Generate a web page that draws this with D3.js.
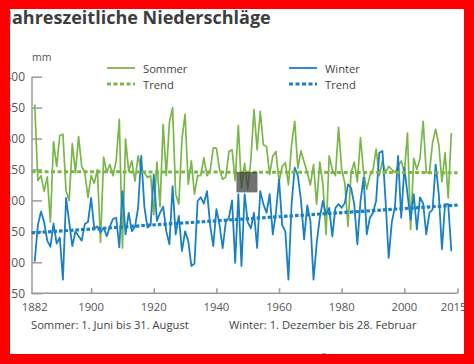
<!DOCTYPE html>
<html><head><meta charset="utf-8">
<script src="https://cdn.jsdelivr.net/npm/d3@7"></script>
<style>html,body{margin:0;padding:0;background:#fff;}svg{display:block;}</style>
</head><body>
<svg id="chart" width="474" height="364"></svg>
<script>
const firstYear = 1882;
const sommer = [355,232,240,215,238,165,295,255,305,307,215,200,292,245,303,255,245,205,240,228,250,132,270,245,258,240,264,331,123,299,247,264,231,272,250,245,237,240,177,262,190,323,240,326,350,210,194,300,339,226,264,210,240,240,269,240,248,285,284,250,234,238,279,282,232,321,220,260,218,265,347,282,344,290,287,242,272,279,230,255,261,225,290,328,252,280,262,245,225,258,194,262,226,145,272,250,240,318,250,228,158,245,262,230,301,245,218,240,250,283,240,264,245,255,250,245,255,264,245,309,153,268,250,268,328,245,245,293,315,290,230,277,204,309];
const winter = [101,160,182,165,135,125,163,130,140,72,204,165,126,150,142,135,162,165,204,155,158,148,156,142,158,170,172,124,215,145,180,150,157,188,272,190,156,160,242,167,180,190,150,129,223,145,175,118,150,135,94,98,199,205,195,215,160,126,186,160,123,165,172,200,99,210,94,210,165,155,180,123,215,194,180,210,145,180,234,160,150,72,194,253,240,200,137,192,167,72,130,172,199,177,188,142,188,194,188,196,226,220,194,129,199,237,145,172,180,200,277,280,200,107,165,190,272,172,253,210,169,210,153,205,195,145,180,185,258,210,121,194,194,118];
const trendYears = [1881, 2017];
const sommerTrend = [246.5, 244.8];
const winterTrend = [147.5, 192.5];
const yTicks = [50,100,150,200,250,300,350,400];
const xTicks = [1900,1920,1940,1960,1980,2000];
const xLabels = ["1882","1900","1920","1940","1960","1980","2000","2015"];
const xLabelYears = [1882,1900,1920,1940,1960,1980,2000,2017];
const title = "Jahreszeitliche Niederschläge";
const unit = "mm";
const legendItems = [["Sommer","Trend"],["Winter","Trend"]];
const notes = ["Sommer: 1. Juni bis 31. August","Winter: 1. Dezember bis 28. Februar"];
const sources = ["Quelle: Deutscher Wetterdienst","©Deutscher Bauernverband"];

const green = "#7ab648", blue = "#1a80c4", axisCol = "#9a9a9a", textCol = "#555";
const FONT = "'Open Sans', sans-serif";
const TFONT = "'Open Sans', 'Noto Sans', sans-serif";
const svg = d3.select("#chart");
svg.append("rect").attr("width",474).attr("height",364).attr("fill","#fff");

const x = d3.scaleLinear().domain([1881, 2017]).range([31.6, 457.6]);
const y = d3.scaleLinear().domain([50, 400]).range([293.2, 76.7]);

// title
svg.append("text").attr("x",6).attr("y",24).attr("font-family",TFONT).attr("font-weight","bold")
  .attr("font-size",18).attr("fill","#3d3d3d").text(title);
svg.append("text").attr("x",32).attr("y",61).attr("font-family",FONT).attr("font-size",10.5).attr("fill",textCol).text(unit);

// y axis
const yAxis = d3.axisRight(y).tickValues(yTicks).tickSize(10).tickFormat("");
const gy = svg.append("g").attr("transform","translate(32,0)").call(yAxis);
gy.select(".domain").remove();
gy.selectAll(".tick line").attr("stroke",axisCol).attr("stroke-width",1.5);
svg.append("line").attr("x1",32).attr("x2",32).attr("y1",y(400)).attr("y2",y(50)).attr("stroke",axisCol).attr("stroke-width",1.5);
svg.selectAll("text.ylab").data(yTicks).enter().append("text").attr("class","ylab")
  .attr("x",25).attr("y",d=>y(d)+4.5).attr("text-anchor","end").attr("font-family",FONT)
  .attr("font-size",12).attr("fill",textCol).text(d=>d);

// x axis
const xAxis = d3.axisTop(x).tickValues(xTicks.concat([2017])).tickSize(5).tickFormat("");
const gx = svg.append("g").attr("transform",`translate(0,${y(50)})`).call(xAxis);
gx.select(".domain").remove();
gx.selectAll(".tick line").attr("stroke",axisCol).attr("stroke-width",1.5);
svg.append("line").attr("x1",31).attr("x2",x(2017)).attr("y1",y(50)).attr("y2",y(50)).attr("stroke",axisCol).attr("stroke-width",1.5);
svg.selectAll("text.xlab").data(xLabels).enter().append("text").attr("class","xlab")
  .attr("x",(d,i)=>x(xLabelYears[i]) - (i===xLabels.length-1?4:0)).attr("y",311).attr("text-anchor","middle")
  .attr("font-family",FONT).attr("font-size",11.3).attr("fill",textCol).text(d=>d);

// lines
const line = d3.line().x((d,i)=>x(firstYear+i)).y(d=>y(d));
svg.append("path").datum(sommer).attr("d",line).attr("fill","none").attr("stroke",green).attr("stroke-width",1.7).attr("stroke-linejoin","round");
svg.append("path").datum(winter).attr("d",line).attr("fill","none").attr("stroke",blue).attr("stroke-width",1.8).attr("stroke-linejoin","round");
const tline = d3.line().x((d,i)=>x(trendYears[i])).y(d=>y(d));
svg.append("path").datum(sommerTrend).attr("d",tline).attr("fill","none").attr("stroke",green).attr("stroke-width",3).attr("stroke-dasharray","4,2.5");
svg.append("path").datum(winterTrend).attr("d",tline).attr("fill","none").attr("stroke",blue).attr("stroke-width",3.2).attr("stroke-dasharray","3.5,2");

// gray artifact box
svg.append("rect").attr("x",x(1946.4)).attr("y",y(246)).attr("width",21).attr("height",y(213)-y(246))
  .attr("fill","#3a3a3a").attr("opacity",0.72);

// legend
const lg = [{x0:107,col:green},{x0:289,col:blue}];
lg.forEach((l,k)=>{
  svg.append("line").attr("x1",l.x0).attr("x2",l.x0+28).attr("y1",68).attr("y2",68).attr("stroke",l.col).attr("stroke-width",1.8);
  svg.append("line").attr("x1",l.x0).attr("x2",l.x0+28).attr("y1",84).attr("y2",84).attr("stroke",l.col).attr("stroke-width",3).attr("stroke-dasharray","4,2.5");
  svg.append("text").attr("x",l.x0+36).attr("y",72.5).attr("font-family",FONT).attr("font-size",11.2).attr("fill","#444").text(legendItems[k][0]);
  svg.append("text").attr("x",l.x0+36).attr("y",88.5).attr("font-family",FONT).attr("font-size",11.2).attr("fill","#444").text(legendItems[k][1]);
});

// notes
svg.append("text").attr("x",31).attr("y",328.5).attr("font-family",FONT).attr("font-size",11.2).attr("fill","#444").text(notes[0]);
svg.append("text").attr("x",229).attr("y",328.5).attr("font-family",FONT).attr("font-size",11.2).attr("fill","#444").text(notes[1]);
svg.append("text").attr("x",-2).attr("y",362).attr("font-family",FONT).attr("font-size",11).attr("fill","#666").text(sources[0]);
svg.append("text").attr("x",464).attr("y",362).attr("text-anchor","end").attr("font-family",FONT).attr("font-size",11).attr("fill","#666").text(sources[1]);

// red frame
const red = "#ff0000";
svg.append("rect").attr("x",0).attr("y",0).attr("width",474).attr("height",9).attr("fill",red);
svg.append("rect").attr("x",0).attr("y",354).attr("width",474).attr("height",10).attr("fill",red);
svg.append("rect").attr("x",0).attr("y",0).attr("width",10).attr("height",364).attr("fill",red);
svg.append("rect").attr("x",464).attr("y",0).attr("width",10).attr("height",364).attr("fill",red);
</script>
</body></html>
